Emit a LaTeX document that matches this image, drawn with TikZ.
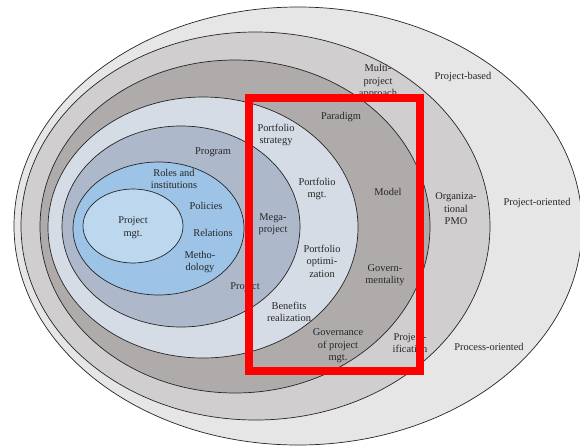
\documentclass[tikz,border=0pt]{standalone}
\usepackage{fontspec}
\setmainfont{Liberation Serif}
\definecolor{cA}{HTML}{E7E6E6}
\definecolor{cB}{HTML}{D0CECE}
\definecolor{cC}{HTML}{AFABAB}
\definecolor{cD}{HTML}{D6DCE5}
\definecolor{cE}{HTML}{ADB9CA}
\definecolor{cF}{HTML}{9DC3E6}
\definecolor{cG}{HTML}{BDD7EE}
\definecolor{txt}{HTML}{262626}
\begin{document}
\begin{tikzpicture}[x=1pt,y=-1pt,
  ring/.style={draw=black!85, line width=0.7pt},
  lbl/.style={font=\fontsize{10.4}{12.6}\selectfont, text=txt, align=center, inner sep=0pt}]
\useasboundingbox (0,0) rectangle (580,447);
\fill[white] (0,0) rectangle (580,447);
% nested ellipses
\path[ring, fill=cA] (298,226) ellipse [x radius=284pt, y radius=219pt];
\path[ring, fill=cB] (255.5,226) ellipse [x radius=234.5pt, y radius=194pt];
\path[ring, fill=cC] (235,226.5) ellipse [x radius=195pt, y radius=166.5pt];
\path[ring, fill=cD] (203,227.5) ellipse [x radius=155pt, y radius=130.5pt];
\path[ring, fill=cE] (181,226.5) ellipse [x radius=119pt, y radius=100.5pt];
\path[ring, fill=cF] (158.5,228.5) ellipse [x radius=85.5pt, y radius=66.5pt];
\path[ring, fill=cG] (133,226) ellipse [x radius=50pt, y radius=37pt];
% labels
\node[lbl] (multi) at (378,81.5) {Multi-\\project\\approach};
\node[lbl] (pbased) at (463,77) {Project-based};
\node[lbl] (poriented) at (537,203) {Project-oriented};
\node[lbl] (opmo) at (456,209) {Organiza-\\tional\\PMO};
\node[lbl] (paradigm) at (341,117) {Paradigm};
\node[lbl] (model) at (388,192) {Model};
\node[lbl] (govern) at (385,275) {Govern-\\mentality};
\node[lbl] (govpm) at (338,346) {Governance\\of project\\mgt.};
\node[lbl] (projectif) at (410,343) {Project-\\ification};
\node[lbl] (procor) at (489,347) {Process-oriented};
\node[lbl] (pstrat) at (276,135) {Portfolio\\strategy};
\node[lbl] (pmgt) at (317,189) {Portfolio\\mgt.};
\node[lbl] (mega) at (273,224) {Mega-\\project};
\node[lbl] (popt) at (322,261) {Portfolio\\optimi-\\zation};
\node[lbl] (benef) at (289,312) {Benefits\\realization};
\node[lbl] (program) at (213,152) {Program};
\node[lbl] (projlow) at (245,287) {Project};
\node[lbl] (roles) at (174,179) {Roles and\\institutions};
\node[lbl] (policies) at (206,206) {Policies};
\node[lbl] (relations) at (213,233) {Relations};
\node[lbl] (method) at (200,262) {Metho-\\dology};
\node[lbl] (projmgt) at (133,227.5) {Project\\mgt.};
% red highlight
\draw[red, line width=8pt] (249,98) rectangle (419.5,371);
\end{tikzpicture}
\end{document}
